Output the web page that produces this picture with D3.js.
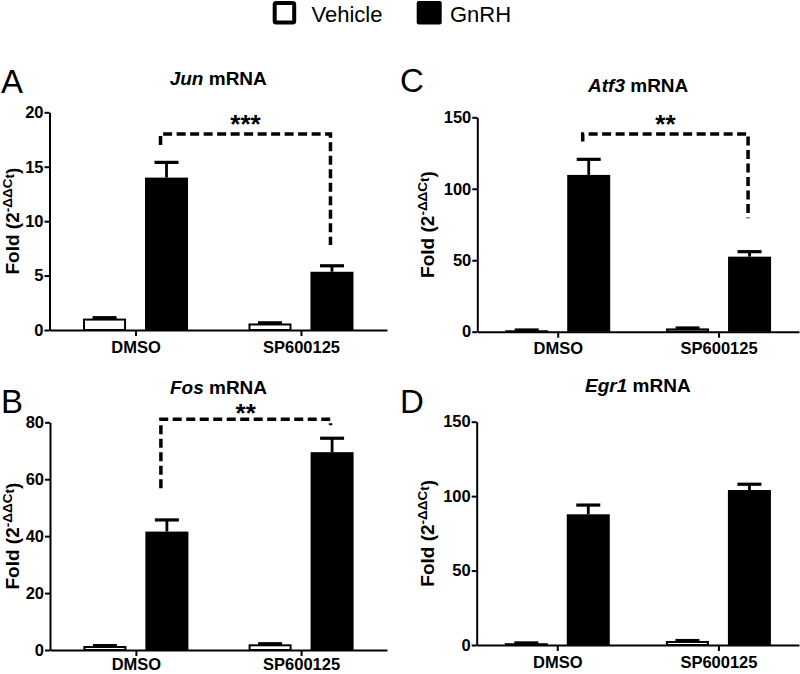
<!DOCTYPE html>
<html>
<head>
<meta charset="utf-8">
<script src="https://cdn.jsdelivr.net/npm/d3@7"></script>
<style>
    body { margin: 0; background: #fff; }
    svg { font-family: "Liberation Sans", Arial, sans-serif; }
</style>
</head>
<body>
<div id="chart"></div>
<script>
// categories
const groups = ['DMSO', 'SP600125'];
const treatments = ['Vehicle', 'GnRH'];

// values (mean, SEM) for DMSO / SP600125
const junVehicle = [1.05, 0.6],  junVehicleErr = [0.08, 0.06];
const junGnrh    = [14.0, 5.35], junGnrhErr    = [1.4, 0.55];

const fosVehicle = [1.4, 2.0],   fosVehicleErr = [0.15, 0.2];
const fosGnrh    = [41.6, 69.5], fosGnrhErr    = [4.1, 4.9];

const atf3Vehicle = [1.0, 2.3],    atf3VehicleErr = [0.2, 0.3];
const atf3Gnrh    = [109.7, 52.5], atf3GnrhErr    = [10.9, 3.5];

const egr1Vehicle = [1.2, 2.7],    egr1VehicleErr = [0.2, 0.3];
const egr1Gnrh    = [87.8, 104.1], egr1GnrhErr    = [6.2, 3.9];

// y tick labels
const junTicks  = [0, 5, 10, 15, 20];
const fosTicks  = [0, 20, 40, 60, 80];
const atf3Ticks = [0, 50, 100, 150];
const egr1Ticks = [0, 50, 100, 150];

// significance brackets: bar level, left end, right end (data units)
const junSig  = {label: '***', level: 18,    leftEnd: 17,   rightEnd: 7.8};
const fosSig  = {label: '**',  level: 81.1,  leftEnd: 56.8, rightEnd: 79};
const atf3Sig = {label: '**',  level: 138.3, leftEnd: 133,  rightEnd: 79.4};

// panel table (data + frame of each plot)
const panels = [
    {letter: 'A', gene: 'Jun',  veh: junVehicle,  vehErr: junVehicleErr,  gn: junGnrh,  gnErr: junGnrhErr,  ticks: junTicks,  sig: junSig,
     left: 49.5, right: 387, top: 112.3, bottom: 330, pad: 0.52, titleY: 85, letterX: 1, letterY: 93, labelX: 19, sigDy: -1, xPad: 5},
    {letter: 'B', gene: 'Fos',  veh: fosVehicle,  vehErr: fosVehicleErr,  gn: fosGnrh,  gnErr: fosGnrhErr,  ticks: fosTicks,  sig: fosSig,
     left: 50, right: 387, top: 422.3, bottom: 650, pad: 0.52, titleY: 394, letterX: 1, letterY: 413, labelX: 19, sigDy: 2.5, xPad: 2.5},
    {letter: 'C', gene: 'Atf3', veh: atf3Vehicle, vehErr: atf3VehicleErr, gn: atf3Gnrh, gnErr: atf3GnrhErr, ticks: atf3Ticks, sig: atf3Sig,
     left: 477.3, right: 799, top: 117.3, bottom: 331.7, pad: 0.5, titleY: 91.5, letterX: 400, letterY: 92, labelX: 434, sigDy: -1, xPad: 5},
    {letter: 'D', gene: 'Egr1', veh: egr1Vehicle, vehErr: egr1VehicleErr, gn: egr1Gnrh, gnErr: egr1GnrhErr, ticks: egr1Ticks, sig: null,
     left: 476.7, right: 799, top: 421.7, bottom: 645, pad: 0.5, titleY: 392, letterX: 400, letterY: 413, labelX: 434, sigDy: 0, xPad: 5}
];

const svg = d3.select('#chart').append('svg')
    .attr('width', 800)
    .attr('height', 674);

// legend
const legend = svg.append('g');
legend.append('rect')
    .attr('x', 274.7).attr('y', 3).attr('width', 19.5).attr('height', 19.5)
    .attr('rx', 1.5)
    .attr('fill', '#fff').attr('stroke', '#000').attr('stroke-width', 4);
legend.append('text')
    .attr('x', 311.5).attr('y', 22)
    .style('font-size', '22px')
    .text('Vehicle');
legend.append('rect')
    .attr('x', 416.7).attr('y', 1).attr('width', 25).attr('height', 23.5)
    .attr('rx', 2)
    .attr('fill', '#000');
legend.append('text')
    .attr('x', 450).attr('y', 22)
    .style('font-size', '22px')
    .text('GnRH');

panels.forEach(p => {
    const g = svg.append('g');

    const y = d3.scaleLinear()
        .domain([0, p.ticks[p.ticks.length - 1]])
        .range([p.bottom, p.top]);

    const x = d3.scalePoint()
        .domain(groups)
        .range([p.left, p.right])
        .padding(p.pad);

    // the two bars inside a group
    const xSub = d3.scaleBand()
        .domain(treatments)
        .range([-52.5, 52.5])
        .paddingInner(0.306);

    const rows = [];
    groups.forEach((grp, i) => {
        rows.push({grp: grp, t: 'Vehicle', v: p.veh[i], e: p.vehErr[i]});
        rows.push({grp: grp, t: 'GnRH', v: p.gn[i], e: p.gnErr[i]});
    });

    // error bars (upper only)
    const err = g.selectAll('.err').data(rows).enter().append('g');
    err.append('line')
        .attr('x1', d => x(d.grp) + xSub(d.t) + xSub.bandwidth() / 2)
        .attr('x2', d => x(d.grp) + xSub(d.t) + xSub.bandwidth() / 2)
        .attr('y1', d => y(d.v))
        .attr('y2', d => y(d.v + d.e))
        .attr('stroke', '#000').attr('stroke-width', 2.8);
    err.append('line')
        .attr('x1', d => x(d.grp) + xSub(d.t) + xSub.bandwidth() / 2 - 12)
        .attr('x2', d => x(d.grp) + xSub(d.t) + xSub.bandwidth() / 2 + 12)
        .attr('y1', d => y(d.v + d.e))
        .attr('y2', d => y(d.v + d.e))
        .attr('stroke', '#000').attr('stroke-width', 3.2);

    // bars
    g.selectAll('.bar').data(rows).enter().append('rect')
        .attr('x', d => x(d.grp) + xSub(d.t) + (d.t === 'Vehicle' ? 1 : 0))
        .attr('width', d => xSub.bandwidth() - (d.t === 'Vehicle' ? 2 : 0))
        .attr('y', d => y(d.v) + (d.t === 'Vehicle' ? 1 : 0))
        .attr('height', d => Math.max(0, y(0) - y(d.v) - (d.t === 'Vehicle' ? 1 : 0)))
        .attr('fill', d => d.t === 'Vehicle' ? '#fff' : '#000')
        .attr('stroke', d => d.t === 'Vehicle' ? '#000' : 'none')
        .attr('stroke-width', 2);

    // axes
    const yAxis = g.append('g')
        .attr('transform', `translate(${p.left},0)`)
        .call(d3.axisLeft(y).tickValues(p.ticks).tickSize(5).tickPadding(1).tickSizeOuter(0));
    const xAxis = g.append('g')
        .attr('transform', `translate(0,${p.bottom})`)
        .call(d3.axisBottom(x).tickSize(6).tickPadding(p.xPad).tickSizeOuter(0));

    [yAxis, xAxis].forEach(a => {
        a.select('.domain').attr('stroke', '#000').attr('stroke-width', 2);
        a.selectAll('.tick line').attr('stroke', '#000').attr('stroke-width', 2);
        a.selectAll('.tick text')
            .attr('fill', '#000')
            .style('font-family', '"Liberation Sans", Arial, sans-serif')
            .style('font-size', '16.5px')
            .style('font-weight', 'bold');
    });

    // title
    const title = g.append('text')
        .attr('x', (p.left + p.right) / 2)
        .attr('y', p.titleY)
        .attr('text-anchor', 'middle')
        .style('font-size', '19px')
        .style('font-weight', 'bold');
    title.append('tspan').style('font-style', 'italic').text(p.gene);
    title.append('tspan').text(' mRNA');

    // panel letter
    g.append('text')
        .attr('x', p.letterX)
        .attr('y', p.letterY)
        .style('font-size', '33px')
        .text(p.letter);

    // y label
    const ylab = g.append('text')
        .attr('transform', `translate(${p.labelX},${(p.top + p.bottom) / 2}) rotate(-90)`)
        .attr('text-anchor', 'middle')
        .style('font-size', '19px')
        .style('font-weight', 'bold');
    ylab.append('tspan').text('Fold (2');
    ylab.append('tspan').attr('dy', -7).style('font-size', '13.5px').text('-ΔΔC');
    ylab.append('tspan').attr('dy', 2).style('font-size', '13.5px').text('t');
    ylab.append('tspan').attr('dy', 5).text(')');

    // significance bracket between the GnRH bars
    if (p.sig) {
        const xl = x(groups[0]) + xSub('GnRH') + xSub.bandwidth() / 2 - 6;
        const xr = x(groups[1]) + xSub('GnRH') + xSub.bandwidth() / 2 - 1.5;
        const path = d3.path();
        path.moveTo(xl, y(p.sig.leftEnd));
        path.lineTo(xl, y(p.sig.level));
        path.lineTo(xr, y(p.sig.level));
        path.lineTo(xr, y(p.sig.rightEnd));
        g.append('path')
            .attr('d', path.toString())
            .attr('fill', 'none')
            .attr('stroke', '#000')
            .attr('stroke-width', 3.5)
            .attr('stroke-dasharray', '9,4.5');
        g.append('text')
            .attr('x', (xl + xr) / 2)
            .attr('y', y(p.sig.level) + p.sigDy)
            .attr('text-anchor', 'middle')
            .style('font-size', '26px')
            .style('font-weight', 'bold')
            .text(p.sig.label);
    }
});
</script>
</body>
</html>
